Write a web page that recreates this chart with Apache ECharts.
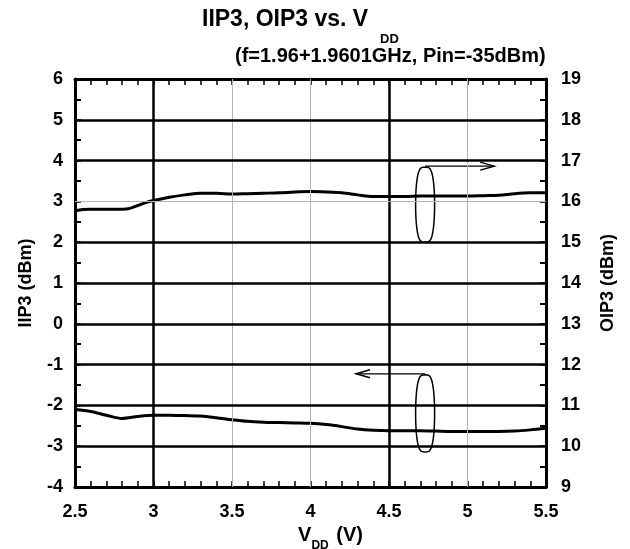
<!DOCTYPE html>
<html>
<head>
<meta charset="utf-8">
<script src="https://cdn.jsdelivr.net/npm/echarts@6/dist/echarts.min.js"></script>
<style>html,body{margin:0;padding:0;background:#fff}#c{width:630px;height:549px}</style>
</head>
<body>
<div id="c"></div>
<script>
// ---- data ----
const iip3V   = [2.5, 2.6, 2.7, 2.8, 2.9, 3.0, 3.1, 3.2, 3.3, 3.4, 3.5, 3.6, 3.7, 3.8, 3.9, 4.0, 4.1, 4.2, 4.3, 4.4, 4.5, 4.6, 4.7, 4.8, 4.9, 5.0, 5.1, 5.2, 5.3, 5.4, 5.5];
const iip3Val = [-2.10, -2.15, -2.24, -2.32, -2.27, -2.24, -2.24, -2.25, -2.26, -2.30, -2.35, -2.39, -2.41, -2.42, -2.43, -2.44, -2.47, -2.52, -2.58, -2.61, -2.62, -2.62, -2.62, -2.63, -2.64, -2.64, -2.64, -2.64, -2.63, -2.60, -2.56];
const oip3V   = [2.5, 2.55, 2.6, 2.7, 2.8, 2.85, 2.9, 2.95, 3.0, 3.1, 3.2, 3.3, 3.4, 3.5, 3.6, 3.7, 3.8, 3.9, 4.0, 4.1, 4.2, 4.3, 4.4, 4.5, 4.6, 4.7, 4.8, 4.9, 5.0, 5.1, 5.2, 5.3, 5.4, 5.5];
const oip3Val = [15.77, 15.80, 15.81, 15.81, 15.81, 15.83, 15.90, 15.97, 16.02, 16.10, 16.16, 16.20, 16.20, 16.18, 16.19, 16.20, 16.21, 16.23, 16.24, 16.23, 16.21, 16.16, 16.12, 16.12, 16.12, 16.13, 16.13, 16.13, 16.13, 16.14, 16.15, 16.19, 16.21, 16.21];
const xThickGrid = [3, 4.5];
const xThinGrid  = [3.5, 4, 5];
const yThickGrid = [5, 4, 2, 1, 0, -1, -2, -3];
const yThinGrid  = [3];
// annotation ellipses (data units, left axis): [x, yTop, yBottom, arrowEndX]
const annotOip3 = [4.73, 3.84, 2.0, 5.17];
const annotIip3 = [4.73, -1.25, -3.14, 4.29];

const FONT = 'Liberation Sans, Arial, sans-serif';
const chart = echarts.init(document.getElementById('c'));

const gridMarks = [];
xThickGrid.forEach(v => gridMarks.push({xAxis: v, lineStyle: {color: '#000', width: 2.5, type: 'solid'}}));
xThinGrid.forEach(v => gridMarks.push({xAxis: v, lineStyle: {color: '#b4b4b4', width: 1, type: 'solid'}}));
yThickGrid.forEach(v => gridMarks.push({yAxis: v, lineStyle: {color: '#000', width: 2.5, type: 'solid'}}));
yThinGrid.forEach(v => gridMarks.push({yAxis: v, lineStyle: {color: '#b4b4b4', width: 1, type: 'solid'}}));

function annotItem(params, api) {
  const x = api.value(0), yt = api.value(1), yb = api.value(2), xe = api.value(3);
  const pTop = api.coord([x, yt]);
  const pBot = api.coord([x, yb]);
  const pEnd = api.coord([xe, yt]);
  const cx = pTop[0], cy = (pTop[1] + pBot[1]) / 2;
  const rx = 9.5, ry = (pBot[1] - pTop[1]) / 2;
  const pts = [];
  for (let i = 0; i <= 80; i++) {
    const t = i / 80 * Math.PI * 2;
    const c = Math.cos(t), s = Math.sin(t);
    const px = cx + rx * Math.sign(c) * Math.pow(Math.abs(c), 0.55);
    const py = cy + ry * s;
    pts.push([px, py]);
  }
  const dir = Math.sign(pEnd[0] - cx);
  return {
    type: 'group',
    children: [
      {type: 'polygon', shape: {points: pts}, style: {fill: 'none', stroke: '#000', lineWidth: 1.5}},
      {type: 'line', shape: {x1: cx, y1: pTop[1] - 1, x2: pEnd[0], y2: pTop[1] - 1}, style: {stroke: '#000', lineWidth: 1.3}},
      {type: 'polyline', shape: {points: [[pEnd[0] - dir * 14, pTop[1] - 5], [pEnd[0], pTop[1] - 1], [pEnd[0] - dir * 14, pTop[1] + 3]]}, style: {fill: 'none', stroke: '#000', lineWidth: 1.5}}
    ]
  };
}

const axisFont = {fontFamily: FONT, fontWeight: 'bold', fontSize: 18, color: '#000'};

chart.setOption({
  animation: false,
  backgroundColor: '#fff',
  grid: {left: 75, right: 84, top: 79, bottom: 62, containLabel: false, outerBoundsMode: 'none'},
  graphic: [
    {type: 'text', left: 202, top: 8, style: {text: 'IIP3, OIP3 vs. V', font: 'bold 23px ' + FONT, fill: '#000'}},
    {type: 'text', left: 380, top: 33, style: {text: 'DD', font: 'bold 13px ' + FONT, fill: '#000'}},
    {type: 'text', left: 235, top: 46, style: {text: '(f=1.96+1.9601GHz, Pin=-35dBm)', font: 'bold 20px ' + FONT, fill: '#000'}}
  ],
  xAxis: [{
    type: 'value', min: 2.5, max: 5.5, interval: 0.5, position: 'bottom',
    axisLine: {show: true, onZero: false, lineStyle: {color: '#000', width: 3}},
    axisTick: {show: true, inside: true, length: 6, lineStyle: {color: '#000', width: 1.5}},
    minorTick: {show: true, splitNumber: 5, length: 6, lineStyle: {color: '#000', width: 1.5}},
    splitLine: {show: false},
    axisLabel: Object.assign({margin: 16, formatter: v => String(v)}, axisFont),
    name: 'V{sub|DD} (V)', nameLocation: 'middle', nameGap: 29,
    nameTextStyle: {fontFamily: FONT, fontWeight: 'bold', fontSize: 20, color: '#000', padding: [0, 0, 0, 40],
      rich: {sub: {fontFamily: FONT, fontWeight: 'bold', fontSize: 12, color: '#000', padding: [20, 2, 0, 0]}}}
  }, {
    type: 'value', min: 2.5, max: 5.5, interval: 0.5, position: 'top',
    axisLine: {show: true, onZero: false, lineStyle: {color: '#000', width: 3}},
    axisTick: {show: true, inside: true, length: 6, lineStyle: {color: '#000', width: 1.5}},
    minorTick: {show: true, splitNumber: 5, length: 6, lineStyle: {color: '#000', width: 1.5}},
    splitLine: {show: false}, axisLabel: {show: false}
  }],
  yAxis: [{
    type: 'value', min: -4, max: 6, interval: 1, position: 'left',
    axisLine: {show: true, onZero: false, lineStyle: {color: '#000', width: 3}},
    axisTick: {show: true, inside: true, length: 6, lineStyle: {color: '#000', width: 1.5}},
    minorTick: {show: true, splitNumber: 2, length: 6, lineStyle: {color: '#000', width: 2}},
    splitLine: {show: false},
    axisLabel: Object.assign({margin: 12}, axisFont),
    name: 'IIP3 (dBm)', nameLocation: 'middle', nameGap: 40, nameRotate: 90,
    nameTextStyle: {fontFamily: FONT, fontWeight: 'bold', fontSize: 18, color: '#000'}
  }, {
    type: 'value', min: 9, max: 19, interval: 1, position: 'right',
    axisLine: {show: true, onZero: false, lineStyle: {color: '#000', width: 3}},
    axisTick: {show: true, inside: true, length: 6, lineStyle: {color: '#000', width: 1.5}},
    minorTick: {show: true, splitNumber: 2, length: 6, lineStyle: {color: '#000', width: 2}},
    splitLine: {show: false},
    axisLabel: Object.assign({margin: 15}, axisFont),
    name: 'OIP3 (dBm)', nameLocation: 'middle', nameGap: 53, nameRotate: 90,
    nameTextStyle: {fontFamily: FONT, fontWeight: 'bold', fontSize: 18, color: '#000'}
  }],
  series: [
    {
      type: 'line', name: 'grid', data: [], z: 1, silent: true,
      markLine: {silent: true, symbol: 'none', label: {show: false}, animation: false, data: gridMarks}
    },
    {
      type: 'line', name: 'IIP3', xAxisIndex: 0, yAxisIndex: 0, z: 3,
      data: iip3V.map((v, i) => [v, iip3Val[i]]),
      showSymbol: false, symbol: 'none', smooth: 0.3,
      lineStyle: {color: '#000', width: 3}
    },
    {
      type: 'line', name: 'OIP3', xAxisIndex: 0, yAxisIndex: 1, z: 3,
      data: oip3V.map((v, i) => [v, oip3Val[i]]),
      showSymbol: false, symbol: 'none', smooth: 0.3,
      lineStyle: {color: '#000', width: 3}
    },
    {
      type: 'custom', name: 'annot', xAxisIndex: 0, yAxisIndex: 0, z: 4, silent: true,
      renderItem: annotItem,
      data: [annotOip3, annotIip3]
    }
  ]
});
</script>
</body>
</html>
